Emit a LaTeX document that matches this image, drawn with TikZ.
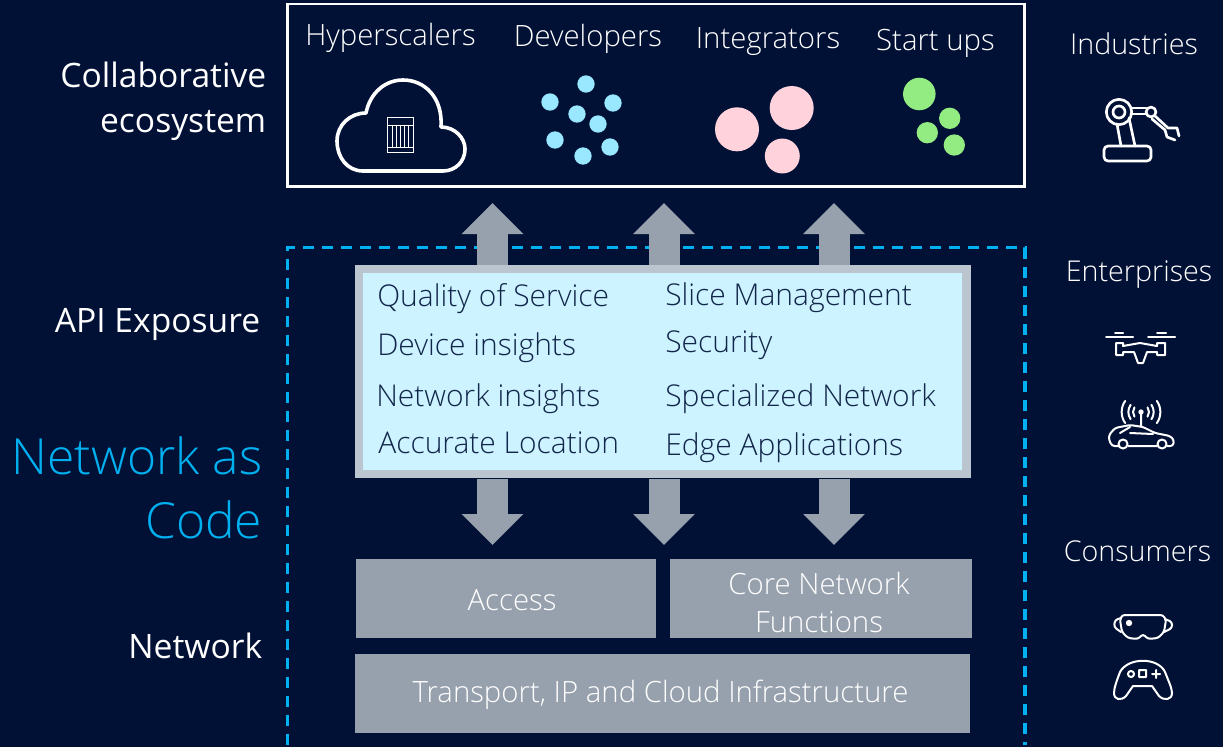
\documentclass[tikz,border=0pt]{standalone}
\usepackage{fontspec}
\setmainfont{Open Sans Light}
\newfontfamily\regularface{Open Sans}
\usetikzlibrary{arrows.meta}
\definecolor{bgnavy}{HTML}{001135}
\definecolor{dashblue}{HTML}{00B0F0}
\definecolor{slategrey}{HTML}{97A0AD}
\definecolor{panelrim}{HTML}{BAC5D0}
\definecolor{panelfill}{HTML}{CCF3FF}
\definecolor{inktext}{HTML}{12264A}
\definecolor{dotblue}{HTML}{99E8FF}
\definecolor{dotpink}{HTML}{FFD2DC}
\definecolor{dotgreen}{HTML}{92EC82}
\begin{document}
\begin{tikzpicture}
[x=0.75pt,y=-0.75pt,
label/.style={text=white,font=\fontsize{22}{26}\selectfont,inner sep=0pt,anchor=base},
rightlabel/.style={label,font=\fontsize{21.5}{26}\selectfont},
side/.style={label,anchor=base east,font=\regularface\fontsize{25.2}{29}\selectfont},
big/.style={label,anchor=base east,text=dashblue,font=\fontsize{37.3}{44}\selectfont},
apitext/.style={label,anchor=base west,text=inktext,font=\fontsize{22.5}{27}\selectfont},
block/.style={fill=slategrey,text=white,inner sep=0pt,anchor=north west},
bigarrow/.style={draw=slategrey,line width=23.25pt,-{Triangle[length=23.25pt,width=45pt]}},
icon/.style={draw=white,line width=2pt,line join=round,line cap=round},
thin icon/.style={draw=white,line width=1.5pt,line join=round,line cap=round},
]

%Background
\fill[bgnavy] (0,0) rectangle (1223,747);
\useasboundingbox (0,0) rectangle (1223,747);

%Frames
\draw[dashblue,line width=2.4pt,dash pattern=on 8.25pt off 6pt] (287.5,745) -- (287.5,247.5) -- (1025,247.5) -- (1025,745);
\node (eco) at (287.5,4) [draw=white,line width=1.9pt,inner sep=0pt,outer sep=0pt,minimum width=552.75pt,minimum height=136.9pt,anchor=north west] {};

%Panel and blocks
\node (api) at (355,265) [fill=panelrim,inner sep=0pt,minimum width=462pt,minimum height=159.75pt,anchor=north west] {};
\node (apiin) at (363,273) [fill=panelfill,inner sep=0pt,minimum width=449.25pt,minimum height=147.75pt,anchor=north west] {};
\node (access) at (356,559) [block,minimum width=225pt,minimum height=59.25pt] {};
\node (core) at (670,559) [block,minimum width=226.5pt,minimum height=59.25pt] {};
\node (transport) at (355,654) [block,minimum width=461.25pt,minimum height=59.25pt] {};

%Arrows between frames
\foreach \n/\x in {a/492.5,b/664,c/834}{
  \coordinate (up\n) at (\x,203);
  \coordinate (down\n) at (\x,545);
  \draw[bigarrow] (api.north -| up\n) -- (up\n);
  \draw[bigarrow] (api.south -| down\n) -- (down\n);
}

%Left labels
\node (collab) at (266.5,87) [side] {Collaborative};
\node (ecosys) at (266.5,132) [side] {ecosystem};
\node (exposure) at (260.5,332) [side] {API Exposure};
\node (naas) at (262.5,474) [big] {Network as};
\node (code) at (262.5,538) [big] {Code};
\node (network) at (262.5,658) [side] {Network};

%Top row
\node (hyper) at (390.5,45) [label] {Hyperscalers};
\node (dev) at (588,46) [label] {Developers};
\node (integ) at (768,48) [label] {Integrators};
\node (start) at (935.5,50) [label] {Start ups};

%Right column
\node (indus) at (1134,54) [rightlabel] {Industries};
\node (enter) at (1139,281) [rightlabel] {Enterprises};
\node (consum) at (1137.5,561) [rightlabel] {Consumers};

%API names
\node (qos) at (377,306) [apitext] {Quality of Service};
\node (device) at (377,355) [apitext] {Device insights};
\node (netins) at (376,406) [apitext] {Network insights};
\node (locat) at (378,453) [apitext] {Accurate Location};
\node (slice) at (665,305) [apitext] {Slice Management};
\node (secur) at (665,352) [apitext] {Security};
\node (special) at (665,406) [apitext] {Specialized Network};
\node (edge) at (665,455) [apitext] {Edge Applications};

%Block names
\node (accesst) at (512,610) [label] {Access};
\node (coret) at (819,594) [label] {Core Network};
\node (funct) at (819,632) [label] {Functions};
\node (transt) at (660.5,702) [label] {Transport, IP and Cloud Infrastructure};

%Dots
\foreach \x/\y in {586/84,550/102,613/103,577/114,598/124,555/140,610/147,583/156}
  \fill[dotblue] (\x,\y) circle (6.5pt);
\foreach \x/\y/\r in {791.7/108/16.5,737/129.3/16.5,782.3/156/13.1}
  \fill[dotpink] (\x,\y) circle (\r pt);
\foreach \x/\y/\r in {919.3/94/12.2,949.7/118.3/8,927.3/132.7/8,954.3/145/8}
  \fill[dotgreen] (\x,\y) circle (\r pt);

%Cloud
\draw[draw=white,line width=2.7pt,line join=round] (363,171) .. controls (347,171) and (337,157) .. (337,141) .. controls (337,125) and (350,113) .. (366,113) .. controls (370,93) and (385,80) .. (403,80) .. controls (425,80) and (443,98) .. (441,127) .. controls (455,127) and (465,138) .. (465,149) .. controls (465,162) and (455,171) .. (443,171) -- cycle;
\draw[white,line width=0.7pt] (387,117) rectangle (413,152) (387,125) -- (413,125) (387,147) -- (413,147);
\foreach \x in {392,396,400,404,408}
  \draw[white,line width=0.5pt] (\x,125) -- (\x,147);

%Robot arm
\draw[icon,rounded corners=3pt] (1104,146) rectangle (1151,161);
\draw[icon] (1117,124) -- (1121,146) (1129,118) -- (1135,146);
\draw[icon] (1119,112) circle (9.5pt) (1119,112) circle (4.5pt) (1151,112) circle (3.7pt);
\draw[icon] (1131,108) -- (1146,108) (1131,114) -- (1146,114);
\draw[icon] (1155,116) -- (1168,128) -- (1177,128) -- (1179,136) (1152,119) -- (1165,130) -- (1167,137) -- (1175,140);

%Drone
\draw[thin icon] (1106,337) -- (1133,337) (1148,337) -- (1175,337) (1115,333) -- (1123,333) (1157,333) -- (1166,333);
\draw[thin icon] (1116,343) -- (1123,343) -- (1123,346) -- (1140,343) -- (1157,346) -- (1157,343) -- (1165,343) -- (1165,355) -- (1157,355) -- (1157,352) -- (1147,352) -- (1143,363) -- (1138,363) -- (1134,352) -- (1123,352) -- (1123,355) -- (1116,355) -- cycle;

%Car
\draw[thin icon,rounded corners=2pt] (1119,446) -- (1112,446) -- (1109,440) -- (1109,435) -- (1115,428) -- (1130,425) -- (1143,427) -- (1155,433) -- (1170,436) -- (1174,440) -- (1173,446) -- (1167,446) (1128,446) -- (1157,446);
\draw[thin icon] (1120,433) -- (1130,427) (1130,433) -- (1153,434);
\draw[thin icon] (1123,444) circle (3.4pt) (1162,444) circle (3.4pt) (1141,414) -- (1141,426);
\fill[white] (1141,412) circle (2pt);
\foreach \r in {6,9.5,14.5}{
  \draw[thin icon] (1141,412) ++(145:\r pt) arc (145:215:\r pt);
  \draw[thin icon] (1141,412) ++(35:\r pt) arc (35:-35:\r pt);
}

%Goggles
\draw[thin icon,rounded corners=2pt] (1122,615) -- (1163,615) -- (1166,620) -- (1164,632) -- (1158,638) -- (1148,639) -- (1143,634) -- (1138,639) -- (1128,638) -- (1122,632) -- (1120,620) -- cycle;
\draw[thin icon,rounded corners=2pt] (1121,618) -- (1115,620) -- (1114,627) -- (1121,632) (1165,619) -- (1172,622) -- (1172,628) -- (1164,632);
\fill[white] (1129,623) circle (2.4pt);

%Gamepad
\draw[thin icon] (1120,672) .. controls (1128,657) and (1158,657) .. (1165,672) .. controls (1168,680) and (1172,688) .. (1172,693) .. controls (1172,700) and (1164,701) .. (1159,696) -- (1152,686) -- (1133,686) -- (1126,696) .. controls (1121,701) and (1114,700) .. (1114,693) .. controls (1114,688) and (1117,680) .. (1120,672) -- cycle;
\draw[thin icon] (1131,674) circle (2.3pt) (1139,670) rectangle (1146,677) (1152,674) -- (1160,674) (1156,670) -- (1156,678);

\end{tikzpicture}
\end{document}
